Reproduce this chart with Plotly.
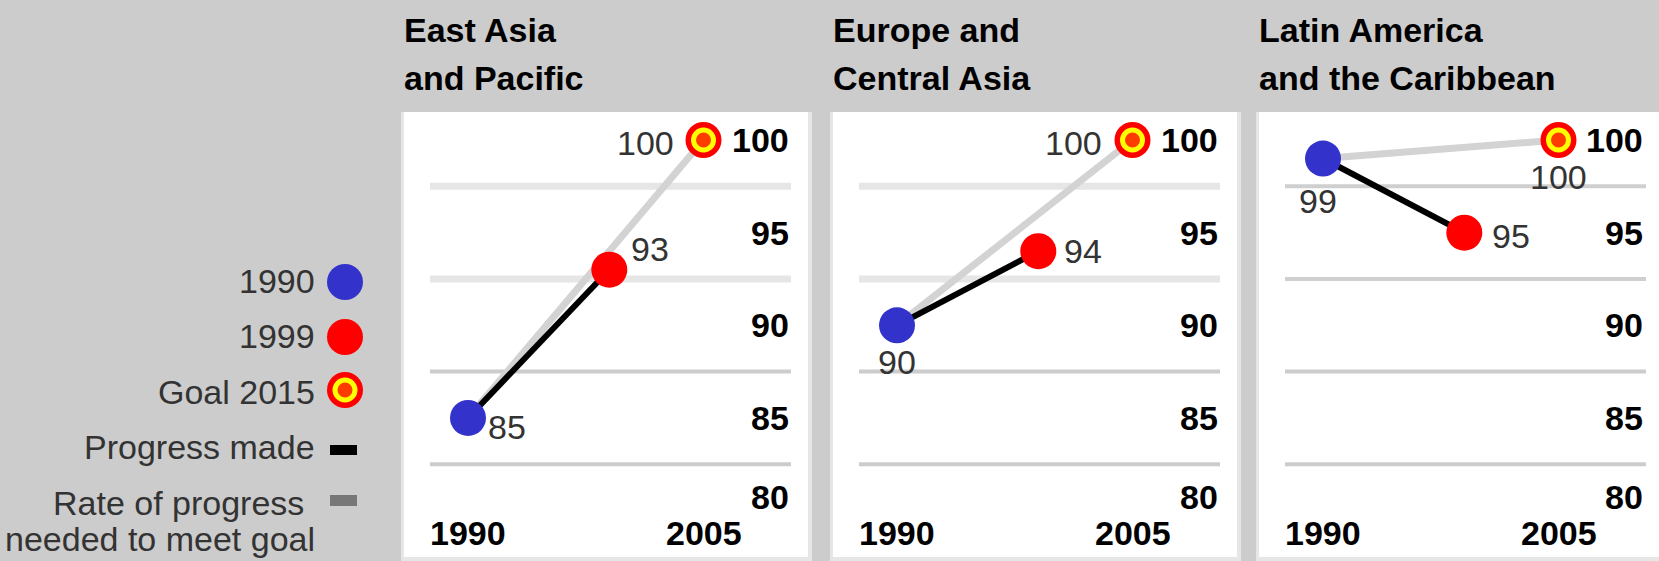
import plotly.graph_objects as go

# ---- data -------------------------------------------------------------
region_line1 = ["East Asia", "Europe and", "Latin America"]
region_line2 = ["and Pacific", "Central Asia", "and the Caribbean"]
value_1990 = [85, 90, 99]
value_1999 = [93, 94, 95]
goal_2015 = [100, 100, 100]
year_start = 1990
year_mid = 1999
year_end = 2005          # goal is drawn at the right end of the time axis
x_tick_labels = [1990, 2005]
y_tick_labels = [100, 95, 90, 85, 80]
grid_levels = [97.5, 92.5, 87.5, 82.5]

legend_point_labels = ["1990", "1999", "Goal 2015"]
legend_line_labels = ["Progress made", "Rate of progress", "needed to meet goal"]

# ---- layout constants (pixels) ----------------------------------------
W, H = 1659, 561
BG = "#cccccc"
BLUE = "#3333cc"
RED = "#ff0000"
YELLOW = "#ffff00"
CORE = "#ff3c00"
TEXT_DARK = "#333333"
FONT = "Liberation Sans, Arial, sans-serif"
FS = 34

panel_left = [404, 833, 1259]
panel_width = 404
panel_top = 112
px_per_year = 15.7
offset_1990 = 64                 # px from panel edge to the 1990 position
y_range = [77.28, 107.555]       # full-height y axis

# label placement per panel: (xanchor, xshift, yshift) for 1990, 1999, goal
label_place = [
    [("left", 18, -9), ("left", 20, 21), ("right", -28, -3)],
    [("center", 0, -37), ("left", 24, 0), ("right", -29, -3)],
    [("center", -5, -42), ("left", 26, -3), ("center", 0, -37)],
]
# grid styles per panel: list of (colour, width) for each grid level
grid_style = [
    [("#e6e6e6", 7), ("#e6e6e6", 7), ("#cccccc", 4), ("#cccccc", 4)],
    [("#e6e6e6", 7), ("#e6e6e6", 7), ("#cccccc", 4), ("#cccccc", 4)],
    [("#cfcfcf", 4), ("#cfcfcf", 4), ("#cccccc", 4), ("#cccccc", 4)],
]

DOT = 36
GOAL_OUTER = 36
GOAL_INNER = 20
GOAL_RING = 5


def px(x):
    return x / W


def py(y):
    return 1 - y / H


fig = go.Figure()
shapes = []
annotations = []


def add_goal(xv, yv, xref, yref):
    fig.add_trace(go.Scatter(x=[xv], y=[yv], mode="markers",
                             marker=dict(size=GOAL_OUTER, color=RED), xaxis=xref, yaxis=yref))
    fig.add_trace(go.Scatter(x=[xv], y=[yv], mode="markers",
                             marker=dict(size=GOAL_INNER, color=CORE,
                                         line=dict(color=YELLOW, width=GOAL_RING)),
                             xaxis=xref, yaxis=yref))


for i in range(3):
    L = panel_left[i]
    R = min(L + panel_width, W)
    ax = "" if i == 0 else str(i + 1)
    xref, yref = "x" + ax, "y" + ax

    # panel background with light edge
    shapes.append(dict(type="rect", xref="paper", yref="paper", layer="below",
                       x0=px(L - 3), x1=px(min(R + 4, W)), y0=py(H), y1=py(panel_top),
                       fillcolor="#e6e6e6", line=dict(width=0)))
    shapes.append(dict(type="rect", xref="paper", yref="paper", layer="below",
                       x0=px(L), x1=px(R), y0=py(557), y1=py(panel_top),
                       fillcolor="white", line=dict(width=0)))
    # horizontal grid lines
    for g, (gc, gw) in zip(grid_levels, grid_style[i]):
        shapes.append(dict(type="line", xref="paper", yref=yref, layer="below",
                           x0=px(L + 26), x1=px(min(L + 387, W)), y0=g, y1=g,
                           line=dict(color=gc, width=gw)))

    # axes
    x_lo = year_start - offset_1990 / px_per_year
    x_hi = year_start + (R - L - offset_1990) / px_per_year
    fig.update_layout(**{
        "xaxis" + ax: dict(domain=[px(L), px(R)], range=[x_lo, x_hi], visible=False,
                           fixedrange=True),
        "yaxis" + ax: dict(domain=[0, 1], range=y_range, visible=False, fixedrange=True,
                           anchor="x" + ax),
    })

    # rate of progress needed (grey) and progress made (black)
    fig.add_trace(go.Scatter(x=[year_start, year_end], y=[value_1990[i], goal_2015[i]],
                             mode="lines", line=dict(color="#d3d3d3", width=7),
                             xaxis=xref, yaxis=yref))
    fig.add_trace(go.Scatter(x=[year_start, year_mid], y=[value_1990[i], value_1999[i]],
                             mode="lines", line=dict(color="black", width=6),
                             xaxis=xref, yaxis=yref))
    # points
    fig.add_trace(go.Scatter(x=[year_start], y=[value_1990[i]], mode="markers",
                             marker=dict(size=DOT, color=BLUE), xaxis=xref, yaxis=yref))
    fig.add_trace(go.Scatter(x=[year_mid], y=[value_1999[i]], mode="markers",
                             marker=dict(size=DOT, color=RED), xaxis=xref, yaxis=yref))
    add_goal(year_end, goal_2015[i], xref, yref)

    # value labels
    pts = [(year_start, value_1990[i]), (year_mid, value_1999[i]), (year_end, goal_2015[i])]
    for (xv, yv), (xa, xs, ys) in zip(pts, label_place[i]):
        annotations.append(dict(x=xv, y=yv, xref=xref, yref=yref, text=str(yv),
                                showarrow=False, xanchor=xa, yanchor="middle",
                                xshift=xs, yshift=ys,
                                font=dict(family=FONT, size=FS, color=TEXT_DARK)))

    # y tick labels on the right
    for t in y_tick_labels:
        annotations.append(dict(x=px(min(L + 387, W - 14)), y=t, xref="paper", yref=yref,
                                text="<b>%d</b>" % t, showarrow=False, xanchor="right",
                                yanchor="middle", yshift=14 if t == y_tick_labels[-1] else 0,
                                font=dict(family=FONT, size=FS, color="black")))
    # x tick labels
    for t in x_tick_labels:
        annotations.append(dict(x=t, y=py(533), xref=xref, yref="paper",
                                text="<b>%d</b>" % t, showarrow=False, xanchor="center",
                                yanchor="middle",
                                font=dict(family=FONT, size=FS, color="black")))
    # region title
    for line, yc in ((region_line1[i], 30), (region_line2[i], 78)):
        annotations.append(dict(x=px(L - 2), y=py(yc), xref="paper", yref="paper",
                                text="<b>%s</b>" % line, showarrow=False, xanchor="left",
                                yanchor="middle",
                                font=dict(family=FONT, size=FS, color="black")))

# ---- key on the left ---------------------------------------------------
fig.update_layout(
    xaxis4=dict(domain=[0, 1], range=[0, W], visible=False, fixedrange=True),
    yaxis4=dict(domain=[0, 1], range=[H, 0], visible=False, fixedrange=True, anchor="x4"),
)
key_x = 345
key_rows = [282, 337, 390]
fig.add_trace(go.Scatter(x=[key_x], y=[key_rows[0]], mode="markers",
                         marker=dict(size=DOT, color=BLUE), xaxis="x4", yaxis="y4"))
fig.add_trace(go.Scatter(x=[key_x], y=[key_rows[1]], mode="markers",
                         marker=dict(size=DOT, color=RED), xaxis="x4", yaxis="y4"))
add_goal(key_x, key_rows[2], "x4", "y4")
shapes.append(dict(type="rect", xref="paper", yref="paper", x0=px(330), x1=px(357),
                   y0=py(455), y1=py(445), fillcolor="black", line=dict(width=0)))
shapes.append(dict(type="rect", xref="paper", yref="paper", x0=px(330), x1=px(357),
                   y0=py(506), y1=py(495), fillcolor="#777777", line=dict(width=0)))

key_text = [
    (legend_point_labels[0], 317, 281),
    (legend_point_labels[1], 317, 336),
    (legend_point_labels[2], 317, 392),
    (legend_line_labels[0], 317, 447),
    (legend_line_labels[1], 306, 503),
    (legend_line_labels[2], 317, 539),
]
for txt, xr, yc in key_text:
    annotations.append(dict(x=px(xr), y=py(yc), xref="paper", yref="paper", text=txt,
                            showarrow=False, xanchor="right", yanchor="middle",
                            font=dict(family=FONT, size=FS, color=TEXT_DARK)))

fig.update_layout(
    width=W, height=H,
    margin=dict(l=0, r=0, t=0, b=0, pad=0),
    paper_bgcolor=BG, plot_bgcolor="rgba(0,0,0,0)",
    showlegend=False,
    shapes=shapes,
    annotations=annotations,
)
fig.for_each_trace(lambda t: t.update(hoverinfo="skip", cliponaxis=False))

fig.write_html("out.html", config={"displayModeBar": False})
